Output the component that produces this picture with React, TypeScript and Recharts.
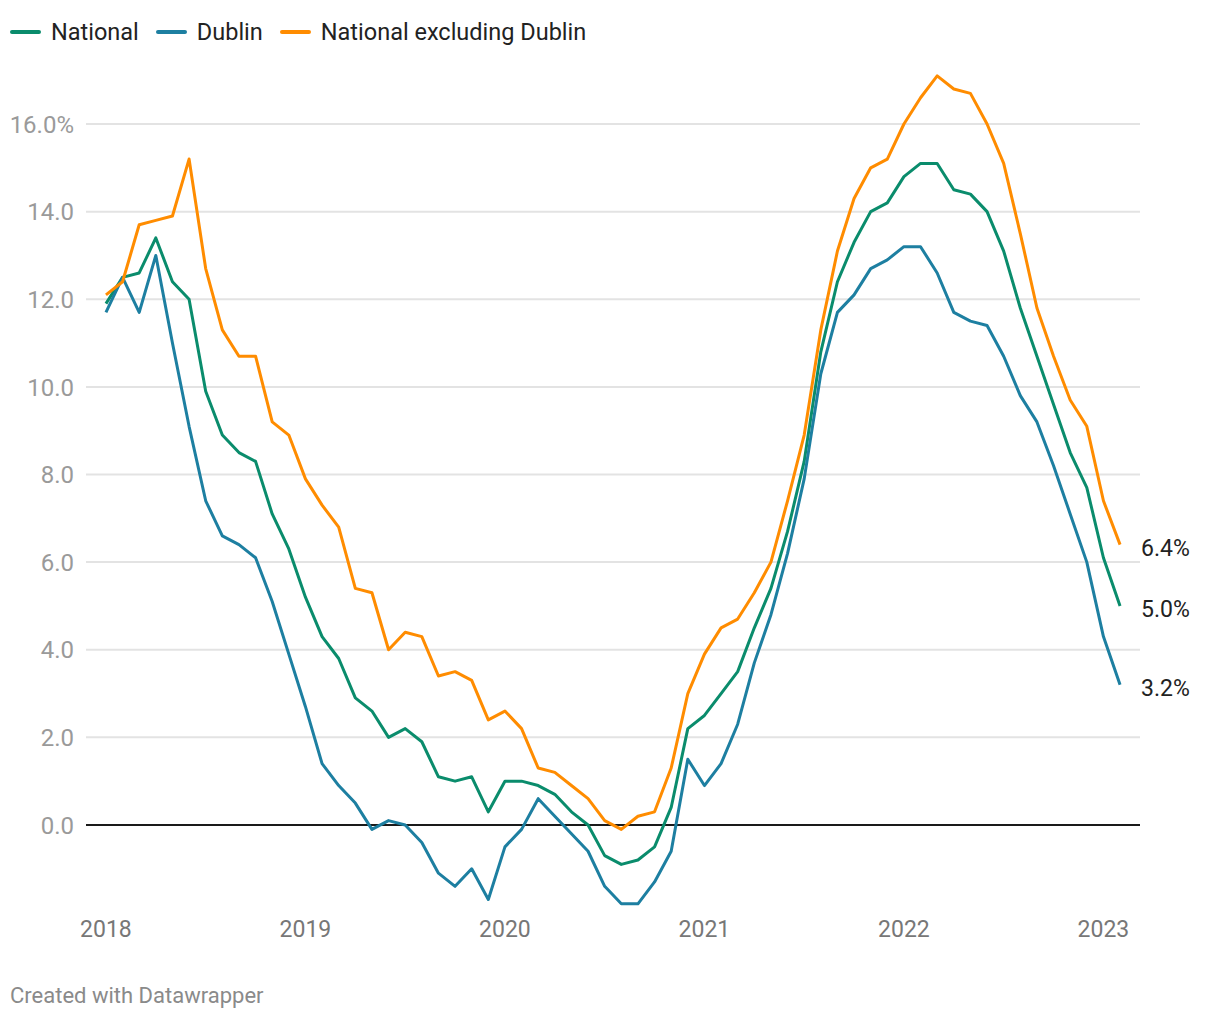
import React from 'react'
import { LineChart, Line, XAxis, YAxis, ReferenceLine } from 'recharts'

// monthly, Jan 2018 .. Feb 2023
const national = [
  11.9, 12.5, 12.6, 13.4, 12.4, 12.0, 9.9, 8.9, 8.5, 8.3, 7.1, 6.3,
  5.2, 4.3, 3.8, 2.9, 2.6, 2.0, 2.2, 1.9, 1.1, 1.0, 1.1, 0.3,
  1.0, 1.0, 0.9, 0.7, 0.3, 0.0, -0.7, -0.9, -0.8, -0.5, 0.4, 2.2,
  2.5, 3.0, 3.5, 4.5, 5.4, 6.7, 8.3, 10.8, 12.4, 13.3, 14.0, 14.2,
  14.8, 15.1, 15.1, 14.5, 14.4, 14.0, 13.1, 11.8, 10.7, 9.6, 8.5, 7.7,
  6.1, 5.0,
]
const dublin = [
  11.7, 12.5, 11.7, 13.0, 11.0, 9.1, 7.4, 6.6, 6.4, 6.1, 5.1, 3.9,
  2.7, 1.4, 0.9, 0.5, -0.1, 0.1, 0.0, -0.4, -1.1, -1.4, -1.0, -1.7,
  -0.5, -0.1, 0.6, 0.2, -0.2, -0.6, -1.4, -1.8, -1.8, -1.3, -0.6, 1.5,
  0.9, 1.4, 2.3, 3.7, 4.8, 6.2, 7.9, 10.3, 11.7, 12.1, 12.7, 12.9,
  13.2, 13.2, 12.6, 11.7, 11.5, 11.4, 10.7, 9.8, 9.2, 8.2, 7.1, 6.0,
  4.3, 3.2,
]
const exDublin = [
  12.1, 12.4, 13.7, 13.8, 13.9, 15.2, 12.7, 11.3, 10.7, 10.7, 9.2, 8.9,
  7.9, 7.3, 6.8, 5.4, 5.3, 4.0, 4.4, 4.3, 3.4, 3.5, 3.3, 2.4,
  2.6, 2.2, 1.3, 1.2, 0.9, 0.6, 0.1, -0.1, 0.2, 0.3, 1.3, 3.0,
  3.9, 4.5, 4.7, 5.3, 6.0, 7.4, 8.9, 11.3, 13.1, 14.3, 15.0, 15.2,
  16.0, 16.6, 17.1, 16.8, 16.7, 16.0, 15.1, 13.5, 11.8, 10.7, 9.7, 9.1,
  7.4, 6.4,
]

const yearTicks = [0, 12, 24, 36, 48, 60]
const yearLabels = ['2018', '2019', '2020', '2021', '2022', '2023']
const yTicks = [0, 2, 4, 6, 8, 10, 12, 14, 16]

const series = [
  { key: 'national', name: 'National', color: '#0a8c6c' },
  { key: 'dublin', name: 'Dublin', color: '#1d7fa1' },
  { key: 'exDublin', name: 'National excluding Dublin', color: '#ff8c00' },
]

const data = national.map((v, i) => ({
  i,
  national: v,
  dublin: dublin[i],
  exDublin: exDublin[i],
}))

const last = data.length - 1
const font = 'Roboto, sans-serif'

function YTick({ y, payload }: any) {
  const v = payload.value
  const txt = v === 16 ? '16.0%' : v.toFixed(1)
  return (
    <text x={74} y={y} dy="0.36em" textAnchor="end" fill="#9a9a9a" fontSize={24} fontFamily={font}>
      {txt}
    </text>
  )
}

const endLabel = (props: any) => {
  const { x, y, index, value } = props
  if (index !== last) return null
  return (
    <text x={x + 21} y={y + 3} dy="0.36em" fill="#222" fontSize={23} fontFamily={font}>
      {value.toFixed(1)}%
    </text>
  )
}

export default function App() {
  return (
    <div style={{ position: 'absolute', left: 0, top: 0, width: 1220, height: 1020, background: '#fff', fontFamily: font }}>
      <div style={{ position: 'absolute', left: 10, top: 17, display: 'flex', alignItems: 'center', fontSize: 23.5, color: '#222', lineHeight: '30px' }}>
        {series.map((s) => (
          <div key={s.key} style={{ display: 'flex', alignItems: 'center', marginRight: 17 }}>
            <span style={{ display: 'inline-block', width: 31, height: 4, borderRadius: 2, background: s.color, marginRight: 10 }} />
            <span>{s.name}</span>
          </div>
        ))}
      </div>
      <LineChart width={1220} height={1020} data={data} margin={{ top: 58.3, right: 80, left: 0, bottom: 67.4 }}>
        <XAxis
          type="number"
          dataKey="i"
          domain={[-1.2, 62.2]}
          ticks={yearTicks}
          tickFormatter={(v) => yearLabels[yearTicks.indexOf(v)]}
          axisLine={false}
          tickLine={false}
          height={40}
          tick={{ fill: '#777', fontSize: 23, fontFamily: font }}
        />
        <YAxis
          domain={[-2, 17.5]}
          ticks={yTicks}
          width={86}
          axisLine={false}
          tickLine={false}
          tick={<YTick />}
        />
        {yTicks.filter((t) => t !== 0).map((t) => (
          <ReferenceLine key={t} y={t} stroke="#e3e3e3" strokeWidth={2} />
        ))}
        <ReferenceLine y={0} stroke="#1a1a1a" strokeWidth={2} />
        {series.map((s) => (
          <Line
            key={s.key}
            type="linear"
            dataKey={s.key}
            name={s.name}
            stroke={s.color}
            strokeWidth={3}
            dot={false}
            strokeLinejoin="round"
            label={endLabel}
            isAnimationActive={false}
          />
        ))}
      </LineChart>
      <div style={{ position: 'absolute', left: 10, top: 983, fontSize: 22, color: '#8a8a8a' }}>
        Created with Datawrapper
      </div>
    </div>
  )
}
